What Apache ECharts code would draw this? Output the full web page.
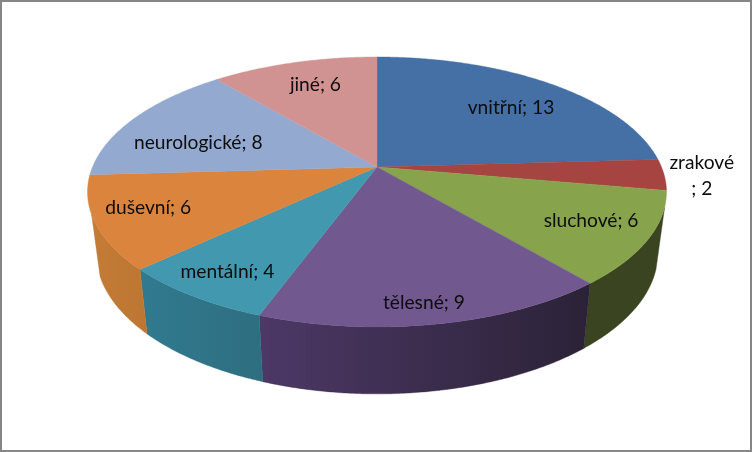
<!DOCTYPE html>
<html>
<head>
<meta charset="utf-8">
<style>html,body{margin:0;padding:0;background:#fff}#c{width:752px;height:452px}</style>
<script src="https://cdn.jsdelivr.net/npm/echarts@6/dist/echarts.min.js"></script>
</head>
<body>
<div id="c"></div>
<script>
const categories = ['vnitřní','zrakové','sluchové','tělesné','mentální','duševní','neurologické','jiné'];
const values = [13,2,6,9,4,6,8,6];
const labelTexts = ['vnitřní; 13','zrakové\n; 2','sluchové; 6','tělesné; 9','mentální; 4','duševní; 6','neurologické; 8','jiné; 6'];

const topColors = ['#4470A6','#A54441','#87A34C','#71588F','#4198AF','#DB843D','#93A9CF','#D19392'];
const wallLeft  = ['#2b4468','#6b2c2a','#3a4420','#4D3866','#317A8F','#C47B36','#93A9CF','#D19392'];
const wallRight = ['#2b4468','#6b2c2a','#3a4420','#2B2237','#2E6E80','#BC7733','#93A9CF','#D19392'];
const labelNudge = [[1,5],[110,3],[15.5,1.5],[4,24],[-17,12.5],[-21.5,0],[7,13],[3,-1]];

const total = values.reduce((a,b)=>a+b,0);
const G = {cx:377, k:0.185, top:{cy:167, rx:284.5, ry:130.4}, bot:{cy:227, rx:276, ry:136},
           visFrom:107, visTo:250, labelR:0.75};
const rad = d => d*Math.PI/180;
function proj(e, deg, f){
  f = f===undefined?1:f;
  const u = Math.sin(rad(deg))*f, v = -Math.cos(rad(deg))*f, d = 1-G.k*v;
  return [G.cx + e.rx*u/d, e.cy + e.ry*v/d];
}
function arc(e, a, b){
  const n = Math.max(2, Math.ceil(Math.abs(b-a)*2)), pts=[];
  for(let i=0;i<=n;i++) pts.push(proj(e, a+(b-a)*i/n));
  return pts;
}
function startAngle(i){ let s=0; for(let j=0;j<i;j++) s+=values[j]; return s/total*360; }

function renderWall(params, api){
  const i = api.value(0), a = startAngle(i), b = a+api.value(1)/total*360;
  const s = Math.max(a,G.visFrom), t = Math.min(b,G.visTo);
  if(t<=s) return {type:'group',children:[]};
  const up = arc(G.top,s,t), lo = arc(G.bot,s,t).reverse();
  const all = up.concat(lo), xs = all.map(p=>p[0]);
  return {type:'polygon', shape:{points:all},
    style:{fill:new echarts.graphic.LinearGradient(Math.max(...xs),0,Math.min(...xs),0,
      [{offset:0,color:wallRight[i]},{offset:1,color:wallLeft[i]}],true),
      stroke:wallRight[i],lineWidth:0.4}};
}
function renderTop(params, api){
  const i = api.value(0), a = startAngle(i), b = a+api.value(1)/total*360;
  const pts = [[G.cx,G.top.cy]].concat(arc(G.top,a,b));
  return {type:'polygon',shape:{points:pts},style:{fill:topColors[i],stroke:topColors[i],lineWidth:0.4}};
}
function renderLabel(params, api){
  const i = api.value(0), a = startAngle(i), b = a+api.value(1)/total*360;
  const l = proj(G.top,(a+b)/2,G.labelR);
  return {type:'text',x:l[0]+labelNudge[i][0],y:l[1]+labelNudge[i][1],
    style:{text:labelTexts[i],fontFamily:'Lato',fontSize:19.2,fill:'#0d0d0d',
      align:'center',verticalAlign:'middle',lineHeight:26}};
}
const rows = values.map((v,i)=>[i,v,categories[i]]);
const chart = echarts.init(document.getElementById('c'),null,{renderer:'canvas'});
chart.setOption({
  animation:false,
  backgroundColor:'#fff',
  series:[
    {type:'custom',coordinateSystem:'none',renderItem:renderWall,data:rows,z:1,silent:true},
    {type:'custom',coordinateSystem:'none',renderItem:renderTop,data:rows,z:2,silent:true},
    {type:'custom',coordinateSystem:'none',renderItem:renderLabel,data:rows,z:3,silent:true}
  ],
  graphic:[{type:'rect',z:10,silent:true,shape:{x:1,y:1,width:750,height:450},
    style:{fill:'none',stroke:'#868686',lineWidth:2}}]
});
</script>
</body>
</html>
